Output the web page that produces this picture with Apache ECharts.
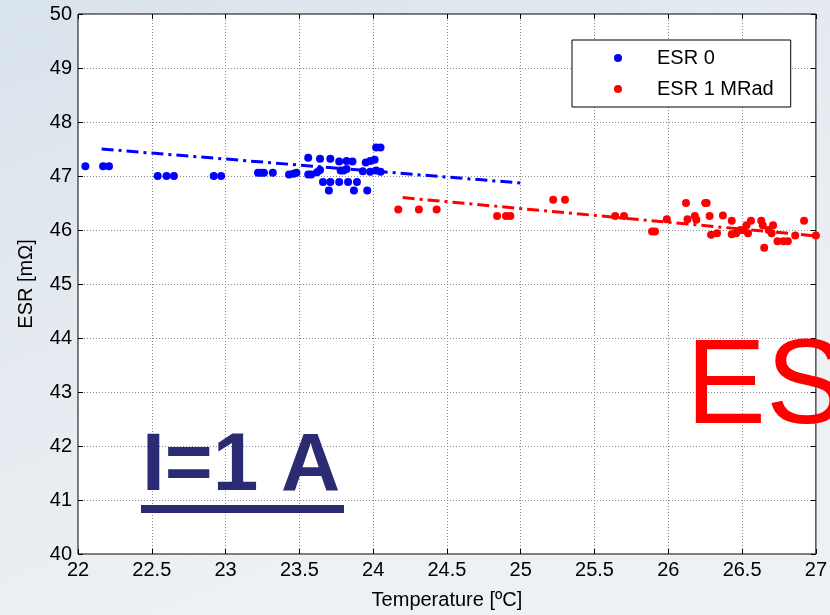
<!DOCTYPE html>
<html>
<head>
<meta charset="utf-8">
<script src="https://cdn.jsdelivr.net/npm/echarts@6/dist/echarts.min.js"></script>
<style>
  html, body { margin: 0; padding: 0; background: #e6ecf1; }
  #chart { width: 830px; height: 615px; }
</style>
</head>
<body>
<div id="chart"></div>
<script>
// Temperature [ºC] and ESR [mΩ] readings before irradiation
const esr0Temp = [22.05, 22.17, 22.21, 22.54, 22.60, 22.65, 22.92, 22.97, 23.22, 23.24,
  23.26, 23.32, 23.43, 23.46, 23.48, 23.56, 23.58, 23.62, 23.64, 23.56,
  23.64, 23.71, 23.77, 23.82, 23.86, 23.66, 23.71, 23.77, 23.70, 23.83,
  23.89, 23.87, 23.96, 23.78, 23.80, 23.82, 23.95, 23.98, 24.01, 24.02,
  24.05, 23.93, 23.98, 24.02, 24.05];
const esr0Val = [47.18, 47.18, 47.18, 47.00, 47.00, 47.00, 47.00, 47.00, 47.06, 47.06,
  47.06, 47.06, 47.03, 47.04, 47.06, 47.03, 47.03, 47.07, 47.11, 47.34,
  47.32, 47.32, 47.27, 47.28, 47.27, 46.89, 46.89, 46.89, 46.73, 46.89,
  46.89, 46.73, 46.73, 47.10, 47.10, 47.13, 47.25, 47.28, 47.30, 47.53,
  47.53, 47.09, 47.08, 47.10, 47.08];

// Readings after 1 MRad
const esr1Temp = [24.17, 24.31, 24.43, 24.84, 24.90, 24.93, 25.22, 25.30, 25.64, 25.70,
  25.89, 25.91, 25.99, 26.12, 26.25, 26.26, 26.13, 26.18, 26.19, 26.28,
  26.29, 26.33, 26.37, 26.43, 26.43, 26.46, 26.49, 26.53, 26.56, 26.54,
  26.51, 26.63, 26.64, 26.65, 26.68, 26.70, 26.71, 26.74, 26.78, 26.81,
  26.86, 26.92, 27.00];
const esr1Val = [46.38, 46.38, 46.38, 46.26, 46.26, 46.26, 46.56, 46.56, 46.26, 46.26,
  45.97, 45.97, 46.20, 46.50, 46.50, 46.50, 46.20, 46.26, 46.19, 46.26,
  45.91, 45.94, 46.27, 46.17, 45.92, 45.94, 46.00, 46.09, 46.17, 45.94,
  46.00, 46.17, 46.09, 45.67, 46.00, 45.94, 46.09, 45.79, 45.79, 45.79,
  45.90, 46.17, 45.90];

// Linear fits (end points)
const fit0Temp = [22.16, 25.00];
const fit0Val = [47.50, 46.87];
const fit1Temp = [24.20, 27.00];
const fit1Val = [46.60, 45.89];

// Axis ranges
const xRange = [22, 27, 0.5];
const yRange = [40, 50, 1];

const seriesNames = ['ESR 0', 'ESR 1 MRad'];
const FONT = "'Liberation Sans', Arial, sans-serif";

const pairs = (xs, ys) => xs.map((x, i) => [x, ys[i]]);

const chart = echarts.init(document.getElementById('chart'));

const tickAxisCommon = {
  axisLine: { show: false },
  axisLabel: { show: false },
  splitLine: { show: false },
  axisTick: { show: true, inside: true, length: 5, lineStyle: { color: '#000', width: 1 } }
};

chart.setOption({
  backgroundColor: {
    type: 'linear', x: 0, y: 0, x2: 0.3, y2: 1,
    colorStops: [
      { offset: 0, color: '#d9e3ec' },
      { offset: 0.5, color: '#e4eaf0' },
      { offset: 1, color: '#eef1f4' }
    ]
  },
  animation: false,
  grid: {
    left: 78, right: 14, top: 14, bottom: 58,
    show: true, backgroundColor: '#ffffff', borderColor: '#000', borderWidth: 1
  },
  legend: {
    data: seriesNames,
    orient: 'vertical',
    left: 572, top: 40,
    backgroundColor: '#ffffff',
    borderColor: '#000', borderWidth: 1, borderRadius: 0,
    padding: [8, 17, 8, 42],
    itemWidth: 8, itemHeight: 8, itemGap: 11,
    icon: 'circle',
    textStyle: { fontFamily: FONT, fontSize: 20, lineHeight: 20, color: '#000', padding: [0, 0, 0, 30] }
  },
  xAxis: [
    {
      type: 'value', position: 'bottom',
      min: xRange[0], max: xRange[1], interval: xRange[2],
      name: 'Temperature [ºC]', nameLocation: 'middle', nameGap: 36,
      nameTextStyle: { fontFamily: FONT, fontSize: 20, color: '#000' },
      axisLine: { show: false },
      axisTick: { show: true, inside: true, length: 5, lineStyle: { color: '#000' } },
      axisLabel: { fontFamily: FONT, fontSize: 20, color: '#000', margin: 6 },
      splitLine: { show: true, lineStyle: { color: '#8c8c8c', type: [1, 2], width: 1 } }
    },
    Object.assign({}, tickAxisCommon, {
      type: 'value', position: 'top',
      min: xRange[0], max: xRange[1], interval: xRange[2]
    })
  ],
  yAxis: [
    {
      type: 'value', position: 'left',
      min: yRange[0], max: yRange[1], interval: yRange[2],
      name: 'ESR [mΩ]', nameLocation: 'middle', nameGap: 42,
      nameTextStyle: { fontFamily: FONT, fontSize: 20, color: '#000' },
      axisLine: { show: false },
      axisTick: { show: true, inside: true, length: 5, lineStyle: { color: '#000' } },
      axisLabel: { fontFamily: FONT, fontSize: 20, color: '#000', margin: 6 },
      splitLine: { show: true, lineStyle: { color: '#8c8c8c', type: [1, 2], width: 1 } }
    },
    Object.assign({}, tickAxisCommon, {
      type: 'value', position: 'right',
      min: yRange[0], max: yRange[1], interval: yRange[2]
    })
  ],
  series: [
    {
      name: seriesNames[0], type: 'scatter',
      symbol: 'circle', symbolSize: 8,
      itemStyle: { color: '#0000ff', opacity: 1 },
      data: pairs(esr0Temp, esr0Val), z: 3
    },
    {
      name: seriesNames[1], type: 'scatter',
      symbol: 'circle', symbolSize: 8,
      itemStyle: { color: '#ff0000', opacity: 1 },
      data: pairs(esr1Temp, esr1Val), z: 3
    },
    {
      name: 'fit 0', type: 'line', showSymbol: false, symbol: 'none',
      lineStyle: { color: '#0000ff', width: 3, type: [12, 5, 3, 5] },
      data: pairs(fit0Temp, fit0Val), z: 4
    },
    {
      name: 'fit 1', type: 'line', showSymbol: false, symbol: 'none',
      lineStyle: { color: '#ff0000', width: 3, type: [12, 5, 3, 5] },
      data: pairs(fit1Temp, fit1Val), z: 4
    }
  ],
  graphic: [
    {
      type: 'text', left: 142, top: 426, z: 100,
      style: { text: 'I=1 A', font: "bold 82px 'Liberation Sans', Arial, sans-serif", fill: '#2b2b73' }
    },
    {
      type: 'rect', z: 100,
      shape: { x: 141, y: 505, width: 203, height: 8 },
      style: { fill: '#2b2b73' }
    },
    {
      type: 'text', left: 686, top: 330, z: 100,
      style: { text: 'ES', font: "120px 'Liberation Sans', Arial, sans-serif", fill: '#ff0000' }
    }
  ]
});
</script>
</body>
</html>
